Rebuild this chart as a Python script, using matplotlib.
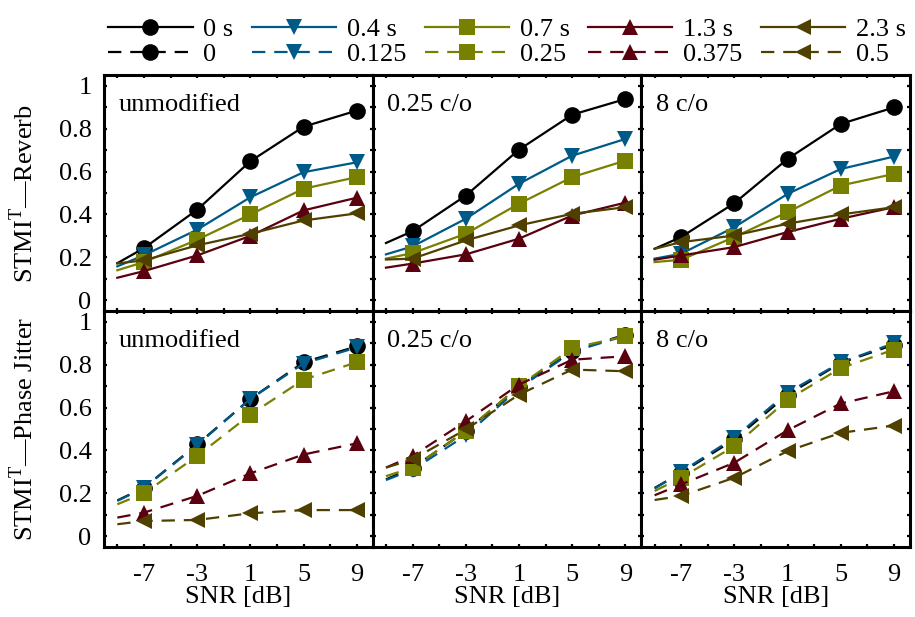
import matplotlib
matplotlib.use("Agg")
import matplotlib.pyplot as plt
from matplotlib.lines import Line2D
import numpy as np

plt.rcParams['font.family'] = ['Liberation Serif', 'DejaVu Serif']
plt.rcParams['mathtext.fontset'] = 'custom'
plt.rcParams['mathtext.rm'] = 'Liberation Serif'
plt.rcParams['axes.unicode_minus'] = False

snr = [-7, -3, 1, 5, 9]
fit_x = [-9, -7, -3, 1, 5, 9]

reverb_labels = ["0 s", "0.4 s", "0.7 s", "1.3 s", "2.3 s"]
jitter_labels = ["0", "0.125", "0.25", "0.375", "0.5"]
panel_titles = ["unmodified", "0.25 c/o", "8 c/o"]
row_labels = ["STMI$^{\\mathrm{T}}$—Reverb", "STMI$^{\\mathrm{T}}$—Phase Jitter"]

colors = ["#000000", "#005a87", "#788000", "#5a000f", "#4f4000"]
markers = ["o", "v", "s", "^", "<"]

# measured points (series order: black, blue, olive, red, brown)
rev_unmod = [[0.243, 0.422, 0.648, 0.809, 0.884],
             [0.21, 0.329, 0.48, 0.597, 0.643],
             [0.178, 0.282, 0.40, 0.52, 0.574],
             [0.136, 0.209, 0.30, 0.419, 0.478],
             [0.186, 0.256, 0.31, 0.372, 0.405]]
rev_025 = [[0.322, 0.488, 0.702, 0.865, 0.938],
           [0.251, 0.38, 0.543, 0.674, 0.752],
           [0.22, 0.31, 0.45, 0.574, 0.651],
           [0.171, 0.214, 0.287, 0.395, 0.455],
           [0.194, 0.279, 0.349, 0.403, 0.434]]
rev_8 = [[0.295, 0.453, 0.659, 0.822, 0.899],
         [0.217, 0.341, 0.496, 0.612, 0.67],
         [0.189, 0.295, 0.411, 0.535, 0.589],
         [0.209, 0.248, 0.318, 0.38, 0.434],
         [0.271, 0.302, 0.357, 0.40, 0.434]]
jit_unmod = [[0.226, 0.428, 0.64, 0.811, 0.885],
             [0.225, 0.425, 0.64, 0.805, 0.88],
             [0.20, 0.374, 0.567, 0.73, 0.811],
             [0.11, 0.188, 0.293, 0.381, 0.433],
             [0.071, 0.076, 0.107, 0.122, 0.122]]
jit_025 = [[0.319, 0.49, 0.696, 0.862, 0.94],
           [0.31, 0.47, 0.69, 0.86, 0.935],
           [0.32, 0.49, 0.70, 0.877, 0.932],
           [0.374, 0.536, 0.707, 0.823, 0.839],
           [0.358, 0.498, 0.66, 0.777, 0.769]]
jit_8 = [[0.296, 0.451, 0.66, 0.808, 0.893],
         [0.30, 0.46, 0.67, 0.81, 0.90],
         [0.273, 0.42, 0.637, 0.784, 0.87],
         [0.242, 0.343, 0.494, 0.619, 0.676],
         [0.188, 0.273, 0.397, 0.482, 0.516]]

# fitted curve value at -9 dB (curves then pass near the points)
rev_unmod_start = [0.173, 0.158, 0.14, 0.105, 0.172]
rev_025_start = [0.267, 0.214, 0.194, 0.152, 0.19]
rev_8_start = [0.24, 0.194, 0.178, 0.189, 0.24]
jit_unmod_start = [0.167, 0.165, 0.149, 0.087, 0.056]
jit_025_start = [0.265, 0.262, 0.28, 0.32, 0.32]
jit_8_start = [0.225, 0.222, 0.211, 0.191, 0.169]

panels = [[(rev_unmod, rev_unmod_start), (rev_025, rev_025_start), (rev_8, rev_8_start)],
          [(jit_unmod, jit_unmod_start), (jit_025, jit_025_start), (jit_8, jit_8_start)]]
dash = (0, (6, 4))

fig = plt.figure(figsize=(9.15, 6.17), dpi=100)
axes = fig.subplots(2, 3, sharex=True, sharey=True)
fig.subplots_adjust(left=0.1137, right=0.9945, top=0.8784, bottom=0.1135,
                    wspace=0, hspace=0)

for r in range(2):
    ls = '-' if r == 0 else dash
    for c in range(3):
        ax = axes[r, c]
        pts, start = panels[r][c]
        for i in range(5):
            ax.plot(fit_x, [start[i]] + pts[i], color=colors[i], lw=1.6, ls=ls)
            ax.plot(snr, pts[i], ls='none', marker=markers[i], ms=12,
                    color=colors[i], mew=0)
        ax.text(0.055, 0.873, panel_titles[c], transform=ax.transAxes,
                fontsize=19, va='center', ha='left')
        ax.set_xlim(-10, 10.2)
        ax.set_ylim(-0.05, 1.05)
        ax.set_xticks(np.arange(-9, 10, 2))
        ax.set_xticklabels(['' if t not in snr else str(t) for t in range(-9, 10, 2)])
        ax.set_yticks(np.arange(0, 1.01, 0.1))
        ax.set_yticklabels(['0', '', '0.2', '', '0.4', '', '0.6', '', '0.8', '', '1'])
        ax.tick_params(direction='in', length=2.5, width=1.6, top=True, right=True,
                       labelsize=19, pad=9)
        ax.tick_params(axis='x', pad=12)
        for sp in ax.spines.values():
            sp.set_linewidth(2.2)
        if r == 1:
            ax.set_xlabel("SNR [dB]", fontsize=19, labelpad=0)

fig.text(0.026, 0.687, row_labels[0], rotation=90, ha='center', va='center', fontsize=19)
fig.text(0.026, 0.305, row_labels[1], rotation=90, ha='center', va='center', fontsize=19)

handles = []
labels = []
for i in range(5):
    handles.append(Line2D([], [], color=colors[i], lw=1.6, marker=markers[i], ms=12, mew=0))
    labels.append(reverb_labels[i])
    handles.append(Line2D([], [], color=colors[i], lw=1.6, ls=dash, marker=markers[i], ms=12, mew=0))
    labels.append(jitter_labels[i])

fig.legend(handles, labels, loc='upper center', bbox_to_anchor=(0.554, 1.01), ncol=5,
           frameon=False, fontsize=19, handlelength=3.2, handletextpad=0.4,
           columnspacing=0.7, labelspacing=0.05)

fig.savefig("out.png", dpi=100)
